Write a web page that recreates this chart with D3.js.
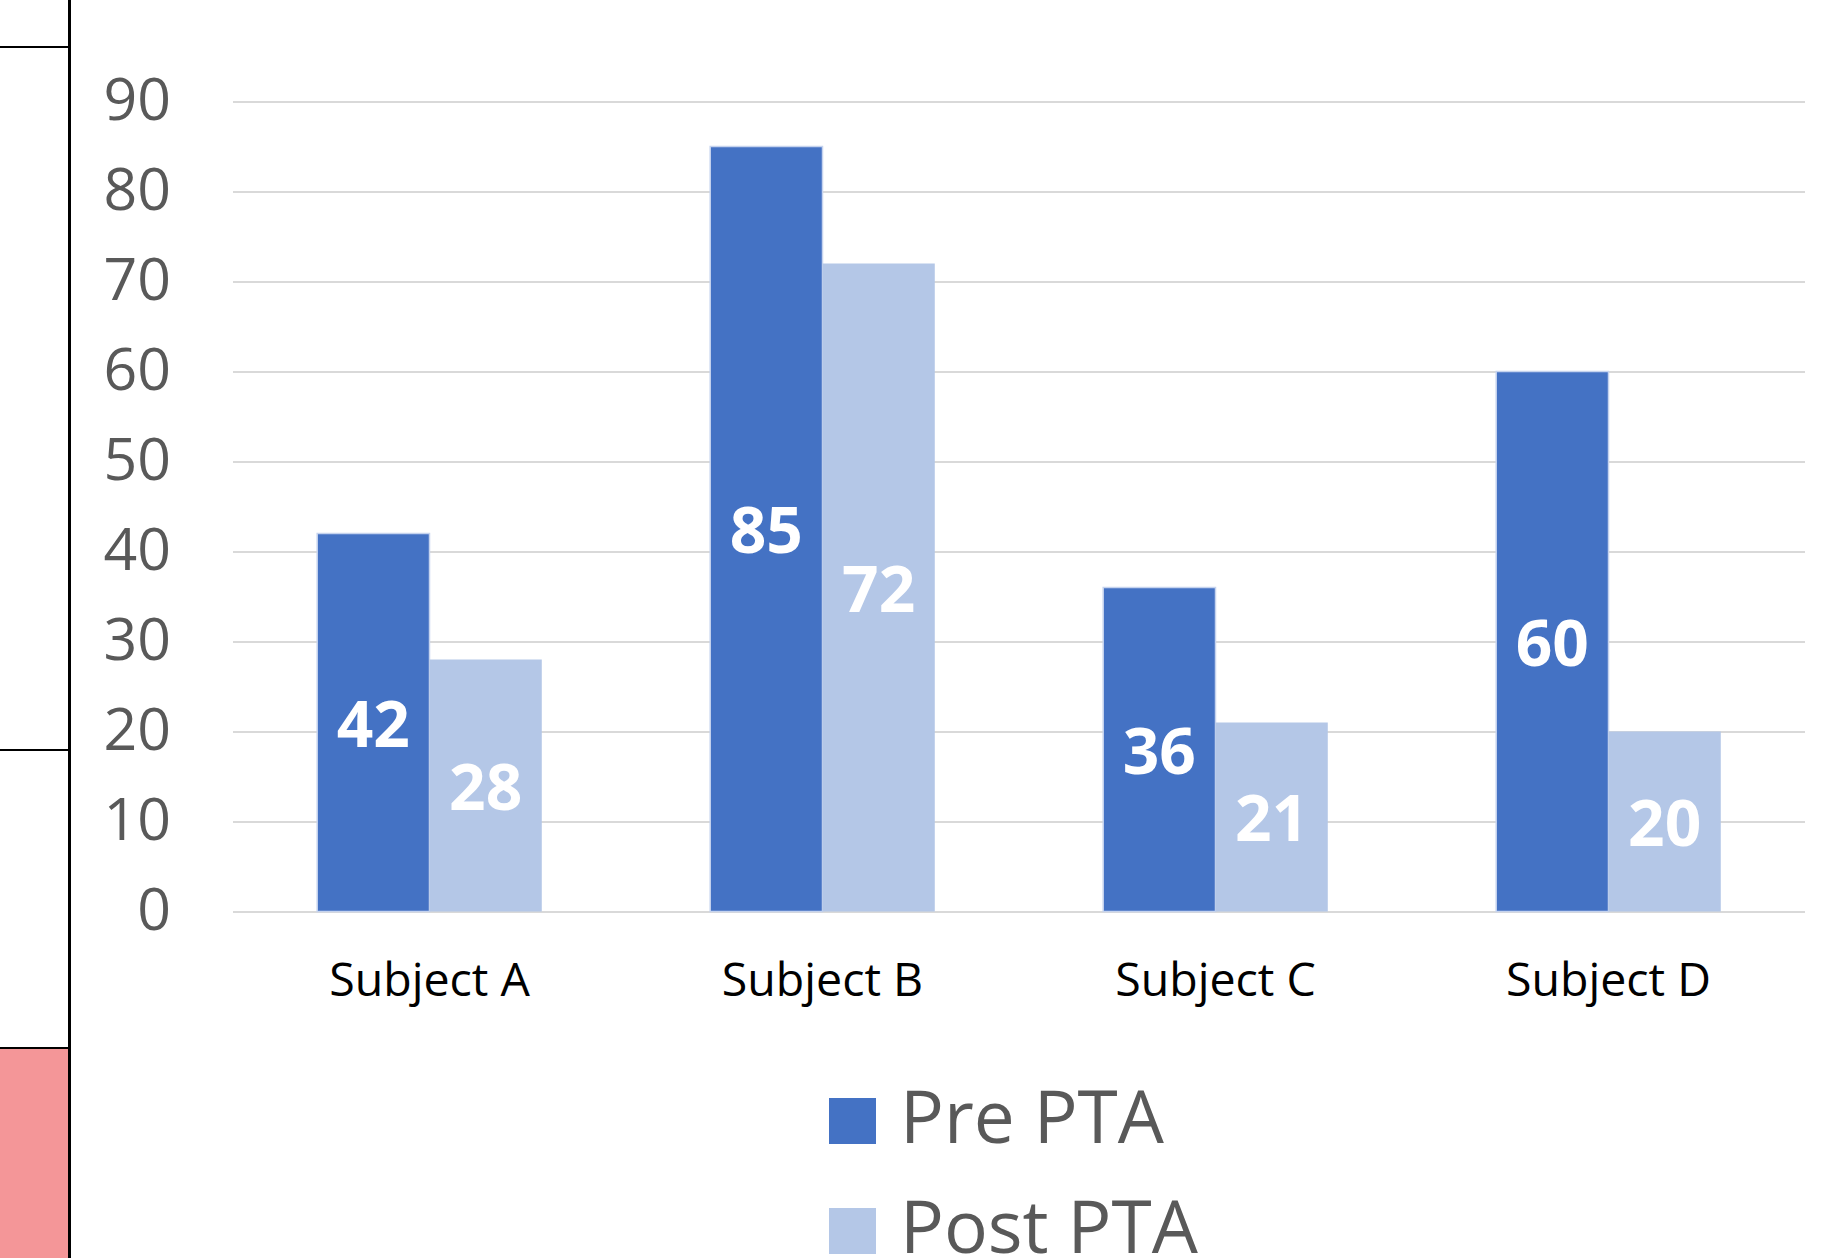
<!DOCTYPE html>
<html lang="en">
<head>
  <meta charset="UTF-8">
  <title>Pre / Post PTA</title>
  <script src="https://d3js.org/d3.v7.min.js"></script>
  <style>
    html, body {
      margin: 0;
      padding: 0;
      background: #fff;
    }
    svg {
      display: block;
      font-family: "Open Sans", sans-serif;
    }
    .grid line {
      stroke: #d9d9d9;
      stroke-width: 2px;
    }
  </style>
</head>
<body>
  <svg id="chart" width="1835" height="1258"></svg>

  <script>
    // data
    const subjects = ["Subject A", "Subject B", "Subject C", "Subject D"];
    const seriesNames = ["Pre PTA", "Post PTA"];
    const prePTA = [42, 85, 36, 60];
    const postPTA = [28, 72, 21, 20];
    const yTicks = [0, 10, 20, 30, 40, 50, 60, 70, 80, 90];
    const colors = ["#4472c4", "#b4c7e7"];

    const rows = subjects.map((s, i) => ({ subject: s, values: [prePTA[i], postPTA[i]] }));

    const svg = d3.select("#chart"),
      margin = { top: 101.5, right: 30, bottom: 346.5, left: 233 },
      width = +svg.attr("width") - margin.left - margin.right,
      height = +svg.attr("height") - margin.top - margin.bottom;

    // frame bits on the left edge (part of the surrounding slide)
    svg.append("rect")
      .attr("x", 0).attr("y", 1048)
      .attr("width", 69).attr("height", 210)
      .attr("fill", "#f49698");
    [47, 750, 1048].forEach(yy => {
      svg.append("line")
        .attr("x1", 0).attr("x2", 69)
        .attr("y1", yy).attr("y2", yy)
        .attr("stroke", "#000").attr("stroke-width", 2);
    });
    svg.append("line")
      .attr("x1", 69.5).attr("x2", 69.5)
      .attr("y1", 0).attr("y2", 1258)
      .attr("stroke", "#000").attr("stroke-width", 3);

    const g = svg.append("g").attr("transform", `translate(${margin.left},${margin.top})`);

    const x0 = d3.scaleBand()
      .domain(subjects)
      .range([0, width])
      .padding(0);

    const x1 = d3.scaleBand()
      .domain(seriesNames)
      .range([0, x0.bandwidth()])
      .paddingInner(0)
      .paddingOuter(0.75);

    const y = d3.scaleLinear()
      .domain([0, 90])
      .range([height, 0]);

    // gridlines
    g.append("g")
      .attr("class", "grid")
      .call(d3.axisLeft(y).tickValues(yTicks).tickSize(-width).tickFormat(""))
      .call(a => a.select(".domain").remove());

    // y labels
    g.append("g")
      .selectAll("text")
      .data(yTicks)
      .enter()
      .append("text")
      .attr("x", -62)
      .attr("y", d => y(d) - 2)
      .attr("dy", "0.35em")
      .attr("text-anchor", "end")
      .attr("fill", "#595959")
      .style("font-size", "59px")
      .text(d => d);

    // bars
    const groups = g.selectAll(".group")
      .data(rows)
      .enter()
      .append("g")
      .attr("class", "group")
      .attr("transform", d => `translate(${x0(d.subject)},0)`);

    groups.selectAll("rect")
      .data(d => d.values.map((v, i) => ({ key: seriesNames[i], i, v })))
      .enter()
      .append("rect")
      .attr("x", d => x1(d.key))
      .attr("y", d => y(d.v))
      .attr("width", x1.bandwidth())
      .attr("height", d => height - y(d.v))
      .attr("fill", d => colors[d.i])
      .attr("stroke", d => d.i === 0 ? "#c5d3ee" : "none")
      .attr("stroke-width", 1.5);

    // value labels, centred in bars
    groups.selectAll(".bar-label")
      .data(d => d.values.map((v, i) => ({ key: seriesNames[i], i, v })))
      .enter()
      .append("text")
      .attr("class", "bar-label")
      .attr("x", d => x1(d.key) + x1.bandwidth() / 2)
      .attr("y", d => (y(d.v) + height) / 2 + 2)
      .attr("dy", "0.35em")
      .attr("text-anchor", "middle")
      .attr("fill", "#fff")
      .style("font-size", "64px")
      .style("font-weight", "bold")
      .text(d => d.v);

    // category labels
    g.append("g")
      .selectAll("text")
      .data(subjects)
      .enter()
      .append("text")
      .attr("x", d => x0(d) + x0.bandwidth() / 2)
      .attr("y", height + 84)
      .attr("text-anchor", "middle")
      .attr("fill", "#000")
      .style("font-size", "46.5px")
      .text(d => d);

    // legend
    const legend = svg.append("g")
      .selectAll("g")
      .data(seriesNames)
      .enter()
      .append("g")
      .attr("transform", (d, i) => `translate(829,${1098 + i * 110})`);

    legend.append("rect")
      .attr("width", 47)
      .attr("height", 46)
      .attr("fill", (d, i) => colors[i]);

    legend.append("text")
      .attr("x", 71)
      .attr("y", 45)
      .attr("fill", "#595959")
      .style("font-size", "73px")
      .text(d => d);
  </script>
</body>
</html>
